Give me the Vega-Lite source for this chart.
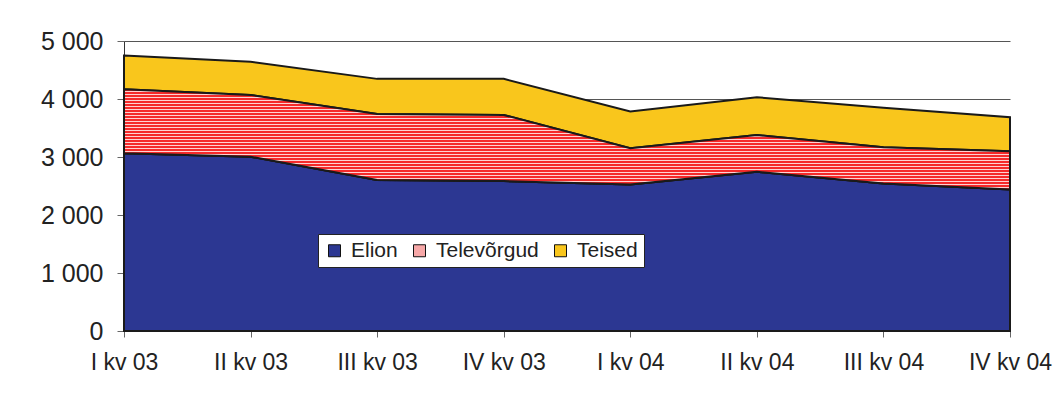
{
  "$schema": "https://vega.github.io/schema/vega-lite/v6.json",
  "width": 886,
  "height": 290,
  "autosize": {"type": "none"},
  "padding": {"left": 124, "top": 41, "right": 48, "bottom": 72},
  "background": "white",
  "config": {"view": {"stroke": null}, "font": "Liberation Sans"},
  "data": {"values": [
    {"kv": "I kv 03", "Elion": 3064, "Televõrgud": 1105, "Teised": 581},
    {"kv": "II kv 03", "Elion": 3005, "Televõrgud": 1066, "Teised": 570},
    {"kv": "III kv 03", "Elion": 2605, "Televõrgud": 1138, "Teised": 604},
    {"kv": "IV kv 03", "Elion": 2585, "Televõrgud": 1140, "Teised": 622},
    {"kv": "I kv 04", "Elion": 2525, "Televõrgud": 625, "Teised": 633},
    {"kv": "II kv 04", "Elion": 2745, "Televõrgud": 635, "Teised": 651},
    {"kv": "III kv 04", "Elion": 2545, "Televõrgud": 625, "Teised": 680},
    {"kv": "IV kv 04", "Elion": 2440, "Televõrgud": 658, "Teised": 587}
  ]},
  "transform": [
    {"fold": ["Elion", "Televõrgud", "Teised"], "as": ["s", "v"]},
    {"window": [{"op": "row_number", "as": "k"}], "groupby": ["kv"]},
    {"stack": "v", "groupby": ["kv"], "sort": [{"field": "k", "order": "ascending"}], "as": ["y0", "y1"]}
  ],
  "encoding": {
    "x": {
      "field": "kv", "type": "ordinal", "sort": null,
      "scale": {"type": "point", "padding": 0},
      "axis": {"title": null, "labelAngle": 0, "labelFontSize": 23, "labelColor": "#222", "tickColor": "#666", "tickSize": 6, "labelPadding": 14, "domainColor": "#333", "grid": false, "labelOverlap": false, "labelFlush": false}
    },
    "y": {
      "field": "y1", "type": "quantitative",
      "scale": {"domain": [0, 5000], "nice": false},
      "axis": {"title": null, "values": [0, 1000, 2000, 3000, 4000, 5000], "labelExpr": "replace(format(datum.value, ','), ',', ' ')", "labelFontSize": 25, "labelColor": "#222", "tickColor": "#666", "tickSize": 7, "labelPadding": 14, "domainColor": "#333", "grid": true, "gridColor": "#555", "gridWidth": 1}
    },
    "y2": {"field": "y0"}
  },
  "layer": [
    {
      "mark": {"type": "area", "stroke": "#1a1a1a", "strokeWidth": 2},
      "encoding": {
        "color": {
          "field": "s", "type": "nominal",
          "scale": {"domain": ["Elion", "Televõrgud", "Teised"], "range": ["#2C3792", "#F7A8A8", "#F9C61C"]},
          "legend": {
            "orient": "none", "legendX": 194, "legendY": 193, "direction": "horizontal", "columns": 3,
            "title": null, "symbolType": "square", "symbolSize": 144,
            "symbolStrokeColor": "#111", "symbolStrokeWidth": 1, "symbolOpacity": 1,
            "labelFontSize": 21, "labelFont": "Liberation Sans", "labelColor": "#222",
            "padding": 6, "strokeColor": "#222", "fillColor": "white",
            "columnPadding": 11, "labelOffset": 6,
            "encode": {"symbols": {"update": {
              "fill": {"signal": "datum.value === 'Televõrgud' ? {gradient: 'linear', x1: 0, y1: 0, x2: 0, y2: 1, stops: [{offset: 0, color: '#F52A2A'}, {offset: 0.125, color: '#F52A2A'}, {offset: 0.125, color: '#FFFFFF'}, {offset: 0.25, color: '#FFFFFF'}, {offset: 0.25, color: '#F52A2A'}, {offset: 0.375, color: '#F52A2A'}, {offset: 0.375, color: '#FFFFFF'}, {offset: 0.5, color: '#FFFFFF'}, {offset: 0.5, color: '#F52A2A'}, {offset: 0.625, color: '#F52A2A'}, {offset: 0.625, color: '#FFFFFF'}, {offset: 0.75, color: '#FFFFFF'}, {offset: 0.75, color: '#F52A2A'}, {offset: 0.875, color: '#F52A2A'}, {offset: 0.875, color: '#FFFFFF'}, {offset: 1, color: '#FFFFFF'}]} : scale('color', datum.value)"},
              "stroke": {"value": "#111"}
            }}}
          }
        }
      }
    },
    {
      "transform": [{"filter": "datum.s === 'Televõrgud'"}],
      "mark": {"type": "area", "stroke": "#1a1a1a", "strokeWidth": 2, "fill": {"gradient": "linear", "x1": 0, "y1": 0, "x2": 0, "y2": 1, "stops": [
        {"offset": 0, "color": "#F52A2A"}, {"offset": 0.015, "color": "#F52A2A"}, {"offset": 0.015, "color": "#FFD2D2"},
        {"offset": 0.03, "color": "#FFD2D2"}, {"offset": 0.03, "color": "#F52A2A"},
        {"offset": 0.045, "color": "#F52A2A"}, {"offset": 0.045, "color": "#FFD2D2"},
        {"offset": 0.06, "color": "#FFD2D2"}, {"offset": 0.06, "color": "#F52A2A"},
        {"offset": 0.075, "color": "#F52A2A"}, {"offset": 0.075, "color": "#FFD2D2"},
        {"offset": 0.09, "color": "#FFD2D2"}, {"offset": 0.09, "color": "#F52A2A"},
        {"offset": 0.105, "color": "#F52A2A"}, {"offset": 0.105, "color": "#FFD2D2"},
        {"offset": 0.12, "color": "#FFD2D2"}, {"offset": 0.12, "color": "#F52A2A"},
        {"offset": 0.135, "color": "#F52A2A"}, {"offset": 0.135, "color": "#FFD2D2"},
        {"offset": 0.15, "color": "#FFD2D2"}, {"offset": 0.15, "color": "#F52A2A"},
        {"offset": 0.165, "color": "#F52A2A"}, {"offset": 0.165, "color": "#FFD2D2"},
        {"offset": 0.18, "color": "#FFD2D2"}, {"offset": 0.18, "color": "#F52A2A"},
        {"offset": 0.195, "color": "#F52A2A"}, {"offset": 0.195, "color": "#FFD2D2"},
        {"offset": 0.21, "color": "#FFD2D2"}, {"offset": 0.21, "color": "#F52A2A"},
        {"offset": 0.225, "color": "#F52A2A"}, {"offset": 0.225, "color": "#FFD2D2"},
        {"offset": 0.24, "color": "#FFD2D2"}, {"offset": 0.24, "color": "#F52A2A"},
        {"offset": 0.255, "color": "#F52A2A"}, {"offset": 0.255, "color": "#FFD2D2"},
        {"offset": 0.27, "color": "#FFD2D2"}, {"offset": 0.27, "color": "#F52A2A"},
        {"offset": 0.285, "color": "#F52A2A"}, {"offset": 0.285, "color": "#FFD2D2"},
        {"offset": 0.3, "color": "#FFD2D2"}, {"offset": 0.3, "color": "#F52A2A"},
        {"offset": 0.315, "color": "#F52A2A"}, {"offset": 0.315, "color": "#FFD2D2"},
        {"offset": 0.33, "color": "#FFD2D2"}, {"offset": 0.33, "color": "#F52A2A"},
        {"offset": 0.345, "color": "#F52A2A"}, {"offset": 0.345, "color": "#FFD2D2"},
        {"offset": 0.36, "color": "#FFD2D2"}, {"offset": 0.36, "color": "#F52A2A"},
        {"offset": 0.375, "color": "#F52A2A"}, {"offset": 0.375, "color": "#FFD2D2"},
        {"offset": 0.39, "color": "#FFD2D2"}, {"offset": 0.39, "color": "#F52A2A"},
        {"offset": 0.405, "color": "#F52A2A"}, {"offset": 0.405, "color": "#FFD2D2"},
        {"offset": 0.42, "color": "#FFD2D2"}, {"offset": 0.42, "color": "#F52A2A"},
        {"offset": 0.435, "color": "#F52A2A"}, {"offset": 0.435, "color": "#FFD2D2"},
        {"offset": 0.45, "color": "#FFD2D2"}, {"offset": 0.45, "color": "#F52A2A"},
        {"offset": 0.465, "color": "#F52A2A"}, {"offset": 0.465, "color": "#FFD2D2"},
        {"offset": 0.48, "color": "#FFD2D2"}, {"offset": 0.48, "color": "#F52A2A"},
        {"offset": 0.495, "color": "#F52A2A"}, {"offset": 0.495, "color": "#FFD2D2"},
        {"offset": 0.51, "color": "#FFD2D2"}, {"offset": 0.51, "color": "#F52A2A"},
        {"offset": 0.525, "color": "#F52A2A"}, {"offset": 0.525, "color": "#FFD2D2"},
        {"offset": 0.54, "color": "#FFD2D2"}, {"offset": 0.54, "color": "#F52A2A"},
        {"offset": 0.555, "color": "#F52A2A"}, {"offset": 0.555, "color": "#FFD2D2"},
        {"offset": 0.57, "color": "#FFD2D2"}, {"offset": 0.57, "color": "#F52A2A"},
        {"offset": 0.585, "color": "#F52A2A"}, {"offset": 0.585, "color": "#FFD2D2"},
        {"offset": 0.6, "color": "#FFD2D2"}, {"offset": 0.6, "color": "#F52A2A"},
        {"offset": 0.615, "color": "#F52A2A"}, {"offset": 0.615, "color": "#FFD2D2"},
        {"offset": 0.63, "color": "#FFD2D2"}, {"offset": 0.63, "color": "#F52A2A"},
        {"offset": 0.645, "color": "#F52A2A"}, {"offset": 0.645, "color": "#FFD2D2"},
        {"offset": 0.66, "color": "#FFD2D2"}, {"offset": 0.66, "color": "#F52A2A"},
        {"offset": 0.675, "color": "#F52A2A"}, {"offset": 0.675, "color": "#FFD2D2"},
        {"offset": 0.69, "color": "#FFD2D2"}, {"offset": 0.69, "color": "#F52A2A"},
        {"offset": 0.705, "color": "#F52A2A"}, {"offset": 0.705, "color": "#FFD2D2"},
        {"offset": 0.72, "color": "#FFD2D2"}, {"offset": 0.72, "color": "#F52A2A"},
        {"offset": 0.735, "color": "#F52A2A"}, {"offset": 0.735, "color": "#FFD2D2"},
        {"offset": 0.75, "color": "#FFD2D2"}, {"offset": 0.75, "color": "#F52A2A"},
        {"offset": 0.765, "color": "#F52A2A"}, {"offset": 0.765, "color": "#FFD2D2"},
        {"offset": 0.78, "color": "#FFD2D2"}, {"offset": 0.78, "color": "#F52A2A"},
        {"offset": 0.795, "color": "#F52A2A"}, {"offset": 0.795, "color": "#FFD2D2"},
        {"offset": 0.81, "color": "#FFD2D2"}, {"offset": 0.81, "color": "#F52A2A"},
        {"offset": 0.825, "color": "#F52A2A"}, {"offset": 0.825, "color": "#FFD2D2"},
        {"offset": 0.84, "color": "#FFD2D2"}, {"offset": 0.84, "color": "#F52A2A"},
        {"offset": 0.855, "color": "#F52A2A"}, {"offset": 0.855, "color": "#FFD2D2"},
        {"offset": 0.87, "color": "#FFD2D2"}, {"offset": 0.87, "color": "#F52A2A"},
        {"offset": 0.885, "color": "#F52A2A"}, {"offset": 0.885, "color": "#FFD2D2"},
        {"offset": 0.9, "color": "#FFD2D2"}, {"offset": 0.9, "color": "#F52A2A"},
        {"offset": 0.915, "color": "#F52A2A"}, {"offset": 0.915, "color": "#FFD2D2"},
        {"offset": 0.93, "color": "#FFD2D2"}, {"offset": 0.93, "color": "#F52A2A"},
        {"offset": 0.945, "color": "#F52A2A"}, {"offset": 0.945, "color": "#FFD2D2"},
        {"offset": 0.96, "color": "#FFD2D2"}, {"offset": 0.96, "color": "#F52A2A"},
        {"offset": 0.975, "color": "#F52A2A"}, {"offset": 0.975, "color": "#FFD2D2"},
        {"offset": 0.99, "color": "#FFD2D2"}, {"offset": 0.99, "color": "#F52A2A"},
        {"offset": 1, "color": "#F52A2A"}
      ]}}
    }
  ]
}
